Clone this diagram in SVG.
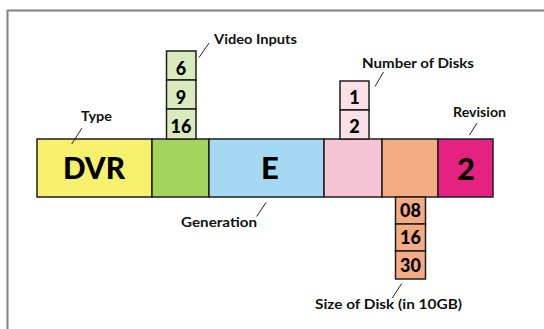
<svg xmlns="http://www.w3.org/2000/svg" width="544" height="329" viewBox="0 0 544 329">
<style>
.cell{stroke:#1e1e1e;stroke-width:1.5}
.lbl{font-family:Lato,"Open Sans","DejaVu Sans",sans-serif;font-weight:700;font-size:13px;fill:#111}
.big{font-family:Lato,"Open Sans","DejaVu Sans",sans-serif;font-weight:900;font-size:31px;fill:#000;text-anchor:middle}
.num{font-family:Lato,"Open Sans","DejaVu Sans",sans-serif;font-weight:900;font-size:18px;fill:#000;text-anchor:middle}
.lead{stroke:#222;stroke-width:1;fill:none}
</style>
<rect width="544" height="329" fill="#fff"/>
<path d="M7.5,330 V10.5 H545" fill="none" stroke="#808080" stroke-width="2"/>
<g id="type">
<rect class="cell" x="37" y="139" width="115" height="58" fill="#F7F06D"/>
<text class="big" x="94" y="178.5" textLength="62" lengthAdjust="spacingAndGlyphs">DVR</text>
<text class="lbl" x="81" y="120.5" textLength="31" lengthAdjust="spacingAndGlyphs">Type</text>
</g>
<g id="video-inputs">
<rect class="cell" x="152" y="139" width="57" height="58" fill="#A3D45E"/>
<rect class="cell" x="166.5" y="51" width="29.5" height="29" fill="#D9EABD"/>
<rect class="cell" x="166.5" y="80" width="29.5" height="29" fill="#D9EABD"/>
<rect class="cell" x="166.5" y="109" width="29.5" height="30" fill="#D9EABD"/>
<text class="num" x="181" y="75">6</text>
<text class="num" x="181" y="103.5">9</text>
<text class="num" x="181" y="132.5">16</text>
<text class="lbl" x="214" y="44" textLength="83" lengthAdjust="spacingAndGlyphs">Video Inputs</text>
</g>
<g id="generation">
<rect class="cell" x="209" y="139" width="115" height="58" fill="#A5D8F2"/>
<text class="big" x="270" y="179">E</text>
<text class="lbl" x="181" y="226.5" textLength="76" lengthAdjust="spacingAndGlyphs">Generation</text>
</g>
<g id="number-of-disks">
<rect class="cell" x="324" y="139" width="58" height="58" fill="#F5C3D4"/>
<rect class="cell" x="340" y="81" width="29" height="29" fill="#FBE0E8"/>
<rect class="cell" x="340" y="110" width="29" height="29" fill="#FBE0E8"/>
<text class="num" x="354.5" y="103.5">1</text>
<text class="num" x="354.5" y="132.5">2</text>
<text class="lbl" x="362" y="68" textLength="112" lengthAdjust="spacingAndGlyphs">Number of Disks</text>
</g>
<g id="size-of-disk">
<rect class="cell" x="382" y="139" width="56" height="58" fill="#F5AB84"/>
<rect class="cell" x="395.5" y="197" width="30" height="27" fill="#F5AB84"/>
<rect class="cell" x="395.5" y="224" width="30" height="27" fill="#F5AB84"/>
<rect class="cell" x="395.5" y="251" width="30" height="28" fill="#F5AB84"/>
<text class="num" x="410.5" y="217">08</text>
<text class="num" x="410.5" y="244">16</text>
<text class="num" x="410.5" y="271.5">30</text>
<text class="lbl" x="315" y="308.5" textLength="147" lengthAdjust="spacingAndGlyphs">Size of Disk (in 10GB)</text>
</g>
<g id="revision">
<rect class="cell" x="438" y="139" width="55" height="58" fill="#E52282"/>
<text class="big" x="466" y="180">2</text>
<text class="lbl" x="453" y="117" textLength="53" lengthAdjust="spacingAndGlyphs">Revision</text>
</g>
<g id="connectors">
<line class="lead" x1="199" y1="57.5" x2="209" y2="43"/>
<line class="lead" x1="375" y1="86.5" x2="383.5" y2="72"/>
<line class="lead" x1="469.5" y1="135" x2="477" y2="123"/>
<line class="lead" x1="71.7" y1="144" x2="82" y2="128"/>
<line class="lead" x1="256.7" y1="216.5" x2="266" y2="202.5"/>
<line class="lead" x1="392.3" y1="298" x2="401.7" y2="283.5"/>
</g>
</svg>
